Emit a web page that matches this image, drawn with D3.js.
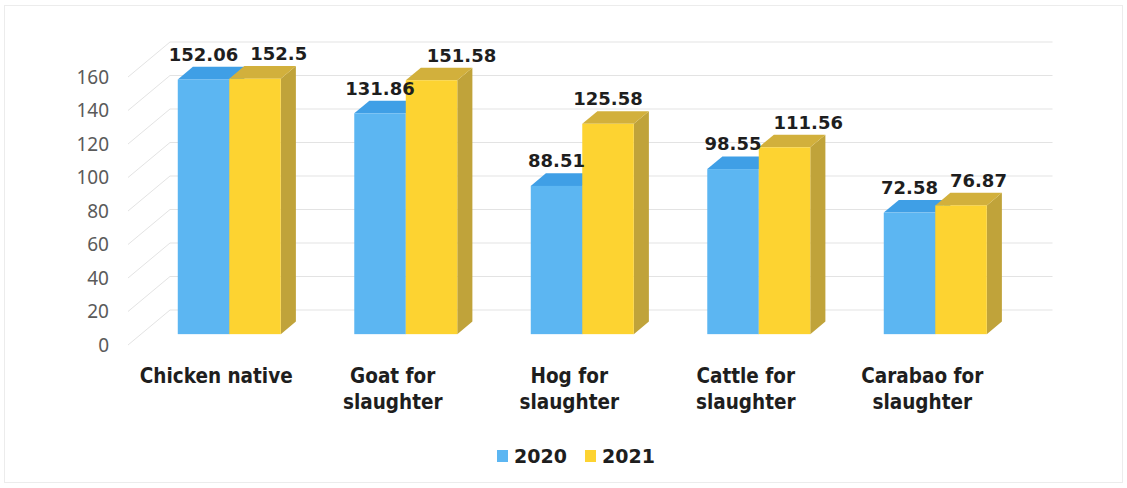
<!DOCTYPE html>
<html><head><meta charset="utf-8">
<script src="https://cdn.jsdelivr.net/npm/d3@7"></script>
<style>body{margin:0;background:#fff}svg{display:block}</style>
</head><body>
<svg id="c" width="1127" height="488"></svg>
<script>
const categories = [["Chicken native"],["Goat for","slaughter"],["Hog for","slaughter"],["Cattle for","slaughter"],["Carabao for","slaughter"]];
const series2020 = [152.06, 131.86, 88.51, 98.55, 72.58];
const series2021 = [152.5, 151.58, 125.58, 111.56, 76.87];
const seriesNames = ["2020","2021"];
const yTicks = [0,20,40,60,80,100,120,140,160];

const svg = d3.select("#c");
const W = 1127, H = 488;
// frame
svg.append("rect").attr("x",4.5).attr("y",5.5).attr("width",W-9).attr("height",H-11)
  .attr("fill","none").attr("stroke","#ececec");

const depth = {dx:42, dy:35};
const f1 = 0.31, f2 = 0.67;
const floorLeft = 128, floorRight = 1010.5;
const y = d3.scaleLinear().domain([0,160]).range([345, 77]);
const x = d3.scaleBand().domain(d3.range(categories.length)).range([floorLeft, floorRight]);

const colors = [
  {front:"#5cb6f2", top:"#3f9fe6", side:"#3a8fd0"},
  {front:"#fdd331", top:"#d2b03c", side:"#c0a33a"}
];

// gridlines
const grid = svg.append("g");
yTicks.forEach(t=>{
  const yy = y(t);
  grid.append("line").attr("x1",floorLeft).attr("y1",yy).attr("x2",floorLeft+depth.dx).attr("y2",yy-depth.dy)
    .attr("stroke","#e3e3e3").attr("stroke-width",1);
  grid.append("line").attr("x1",floorLeft+depth.dx).attr("y1",yy-depth.dy).attr("x2",floorRight+depth.dx).attr("y2",yy-depth.dy)
    .attr("stroke","#e3e3e3").attr("stroke-width",1);
});

// y tick labels
svg.append("g").selectAll("text").data(yTicks).join("text")
  .attr("x",109).attr("y",d=>y(d)).attr("dy","0.36em").attr("text-anchor","end")
  .attr("font-family","Noto Sans").attr("font-size",19).attr("fill","#5a5a5a").text(d=>d);

// bars
const barW = 51.5;
const ox1 = f1*depth.dx, oy1 = f1*depth.dy;
const ddx = (f2-f1)*depth.dx, ddy = (f2-f1)*depth.dy;
const bars = [];
categories.forEach((c,i)=>{
  const center = x(i) + x.bandwidth()/2 + ox1;
  [series2020[i], series2021[i]].forEach((v,s)=>{
    const x0 = center - barW + s*barW;
    bars.push({i,s,v,x0,x1:x0+barW,yt:y(v)-oy1,yb:y(0)-oy1});
  });
});
const gb = svg.append("g");
bars.forEach(b=>{
  const c = colors[b.s];
  gb.append("polygon").attr("points",[[b.x1,b.yt],[b.x1+ddx,b.yt-ddy],[b.x1+ddx,b.yb-ddy],[b.x1,b.yb]].join(" ")).attr("fill",c.side);
  gb.append("polygon").attr("points",[[b.x0,b.yt],[b.x1,b.yt],[b.x1+ddx,b.yt-ddy],[b.x0+ddx,b.yt-ddy]].join(" ")).attr("fill",c.top);
  gb.append("rect").attr("x",b.x0).attr("y",b.yt).attr("width",b.x1-b.x0).attr("height",b.yb-b.yt).attr("fill",c.front);
});

// value labels
const gl = svg.append("g");
const labs = bars.map(b=>{
  const t = gl.append("text").attr("text-anchor","middle").attr("font-family","DejaVu Sans").attr("font-weight","bold")
    .attr("font-size",18).attr("fill","#1e1e1e").text(b.v);
  const w = t.node().getComputedTextLength();
  return {b,t,w,cx:(b.x0+b.x1)/2,by:b.yt-ddy-6};
});
for(let k=0;k<labs.length;k+=2){
  const a = labs[k], c = labs[k+1];
  const minLeft = a.cx + a.w/2 + 12;
  if(c.cx - c.w/2 < minLeft && Math.abs(a.by-c.by)<40) c.cx = minLeft + c.w/2;
}
labs.forEach(l=>l.t.attr("x",l.cx).attr("y",l.by));

// category labels
const gc = svg.append("g");
categories.forEach((lines,i)=>{
  const t = gc.append("text").attr("text-anchor","middle").attr("font-family","DejaVu Sans Condensed").attr("font-weight","bold")
    .attr("font-size",20.5).attr("fill","#1e1e1e");
  lines.forEach((ln,j)=>t.append("tspan").attr("x",x(i)+x.bandwidth()/2).attr("y",383+j*26).text(ln));
});

// legend
const lg = svg.append("g");
const lx = [497, 585];
seriesNames.forEach((n,s)=>{
  lg.append("rect").attr("x",lx[s]).attr("y",450).attr("width",11).attr("height",12).attr("fill",colors[s].front);
  lg.append("text").attr("x",lx[s]+17).attr("y",463).attr("font-family","DejaVu Sans").attr("font-weight","bold")
    .attr("font-size",19).attr("fill","#1e1e1e").text(n);
});
</script>
</body></html>
